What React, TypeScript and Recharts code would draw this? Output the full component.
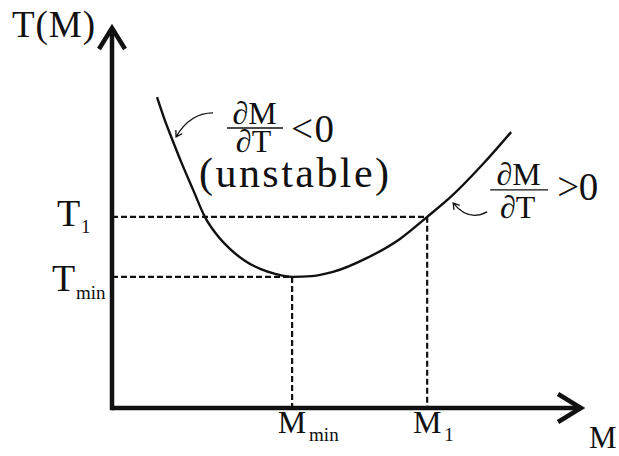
import React from "react";
import {
  LineChart,
  Line,
  XAxis,
  YAxis,
  ReferenceLine,
  ReferenceDot,
} from "recharts";

// curve T(M) (arbitrary units, axes run 0..10)
const massValues = [
  0.96, 1.11, 1.28, 1.49, 1.73, 1.98, 2.24, 2.52, 2.84, 3.16, 3.48, 3.84,
  4.26, 4.71, 5.44, 6.14, 6.72, 7.21, 7.91, 8.51,
];
const tempValues = [
  8.18, 7.63, 7.08, 6.43, 5.74, 5.03, 4.55, 4.18, 3.87, 3.66, 3.53, 3.45,
  3.47, 3.58, 3.95, 4.45, 5.03, 5.54, 6.42, 7.26,
];

const M_MIN = 3.84;
const M_ONE = 6.72;
const T_MIN = 3.45;
const T_ONE = 5.03;
const AXIS_MAX = 10;

const massTicks = [M_MIN, M_ONE];
const massTickSubs = ["min", "1"];
const tempTicks = [T_MIN, T_ONE];
const tempTickSubs = ["min", "1"];

const curveData = massValues.map((m, i) => ({ m, t: tempValues[i] }));

const FONT = "'Liberation Serif', 'Times New Roman', serif";
const INK = "#111";

// shared text props so every label gets the serif face
const tx = { fontFamily: FONT, fill: INK, fontWeight: 400 as const };

function MassTick(props: any) {
  const { x, y, payload } = props;
  const sub = massTickSubs[massTicks.indexOf(payload.value)];
  return (
    <g>
      <text {...tx} x={x} y={y + 25} fontSize={32} textAnchor="middle">
        M
      </text>
      <text {...tx} x={x + 17} y={y + 33} fontSize={19}>
        {sub}
      </text>
    </g>
  );
}

function TempTick(props: any) {
  const { x, y, payload } = props;
  const sub = tempTickSubs[tempTicks.indexOf(payload.value)];
  const isMin = sub === "min";
  return (
    <g>
      <text
        {...tx}
        x={isMin ? x - 60 : x - 55}
        y={isMin ? y + 14 : y + 9}
        fontSize={38}
      >
        T
      </text>
      <text
        {...tx}
        x={isMin ? x - 36 : x - 31}
        y={isMin ? y + 22 : y + 16}
        fontSize={19}
      >
        {sub}
      </text>
    </g>
  );
}

function arrowPath(
  sx: number,
  sy: number,
  qx: number,
  qy: number,
  ex: number,
  ey: number
) {
  const len = Math.hypot(ex - qx, ey - qy);
  const ux = (ex - qx) / len;
  const uy = (ey - qy) / len;
  const head = 7;
  const wing = (a: number) => [
    ex - head * (ux * Math.cos(a) - uy * Math.sin(a)),
    ey - head * (ux * Math.sin(a) + uy * Math.cos(a)),
  ];
  const [ax, ay] = wing(0.55);
  const [bx, by] = wing(-0.55);
  return `M${sx},${sy} Q${qx},${qy} ${ex},${ey} M${ax},${ay} L${ex},${ey} L${bx},${by}`;
}

function UnstableNote(props: any) {
  const { cx, cy } = props;
  return (
    <g>
      <path
        d={arrowPath(cx + 41, cy - 26, cx + 18, cy - 26, cx + 4, cy - 2)}
        fill="none"
        stroke={INK}
        strokeWidth={1.3}
      />
      <text {...tx} x={cx + 82.5} y={cy - 15} fontSize={32} textAnchor="middle">
        ∂M
      </text>
      <line x1={cx + 55} x2={cx + 111} y1={cy - 11} y2={cy - 11} stroke={INK} strokeWidth={1.4} />
      <text {...tx} x={cx + 81.5} y={cy + 13} fontSize={32} textAnchor="middle">
        ∂T
      </text>
      <text {...tx} x={cx + 119} y={cy + 3} fontSize={39} textLength={43} lengthAdjust="spacing">
        {"<0"}
      </text>
      <text {...tx} x={cx + 27} y={cy + 48} fontSize={42} textLength={190} lengthAdjust="spacing">
        (unstable)
      </text>
    </g>
  );
}

function StableNote(props: any) {
  const { cx, cy } = props;
  return (
    <g>
      <path
        d={arrowPath(cx + 60, cy - 5, cx + 41, cy + 5, cx + 26, cy - 14)}
        fill="none"
        stroke={INK}
        strokeWidth={1.3}
      />
      <text {...tx} x={cx + 91.5} y={cy - 32} fontSize={32} textAnchor="middle">
        ∂M
      </text>
      <line x1={cx + 63} x2={cx + 121} y1={cy - 27} y2={cy - 27} stroke={INK} strokeWidth={1.4} />
      <text {...tx} x={cx + 90.5} y={cy + 1} fontSize={32} textAnchor="middle">
        ∂T
      </text>
      <text {...tx} x={cx + 130} y={cy - 17} fontSize={39} textLength={41} lengthAdjust="spacing">
        {">0"}
      </text>
    </g>
  );
}

function MassArrow(props: any) {
  const { cx, cy } = props;
  return (
    <g>
      <polyline
        points={`${cx - 23},${cy - 14} ${cx},${cy} ${cx - 23},${cy + 14}`}
        fill="none"
        stroke={INK}
        strokeWidth={4.5}
      />
      <text {...tx} x={cx + 8} y={cy + 40} fontSize={31}>
        M
      </text>
    </g>
  );
}

function TempArrow(props: any) {
  const { cx, cy } = props;
  return (
    <g>
      <polyline
        points={`${cx - 13},${cy + 21} ${cx},${cy} ${cx + 13},${cy + 21}`}
        fill="none"
        stroke={INK}
        strokeWidth={4.5}
      />
      <text
        {...tx}
        x={cx - 100}
        y={cy + 9}
        fontSize={37}
        textLength={83}
        lengthAdjust="spacing"
      >
        T(M)
      </text>
    </g>
  );
}

export default function App() {
  return (
    <div
      style={{
        position: "absolute",
        left: 0,
        top: 0,
        width: 619,
        height: 456,
        background: "#fff",
      }}
    >
      <LineChart
        width={619}
        height={456}
        data={curveData}
        margin={{ top: 28, right: 38, bottom: 0, left: 0 }}
      >
        <XAxis
          type="number"
          dataKey="m"
          domain={[0, AXIS_MAX]}
          allowDataOverflow
          ticks={massTicks}
          interval={0}
          height={48}
          axisLine={false}
          tickLine={false}
          tickSize={0}
          tickMargin={0}
          tick={(p: any) => <MassTick {...p} />}
        />
        <YAxis
          type="number"
          dataKey="t"
          domain={[0, AXIS_MAX]}
          allowDataOverflow
          ticks={tempTicks}
          interval={0}
          width={112}
          axisLine={false}
          tickLine={false}
          tickSize={0}
          tickMargin={0}
          tick={(p: any) => <TempTick {...p} />}
        />

        <ReferenceLine
          segment={[{ x: 0, y: T_ONE }, { x: M_ONE, y: T_ONE }]}
          stroke={INK}
          strokeWidth={2.2}
          strokeDasharray="6 3"
          ifOverflow="visible"
        />
        <ReferenceLine
          segment={[{ x: M_ONE, y: T_ONE }, { x: M_ONE, y: 0 }]}
          stroke={INK}
          strokeWidth={2.2}
          strokeDasharray="6 3"
          ifOverflow="visible"
        />
        <ReferenceLine
          segment={[{ x: 0, y: T_MIN }, { x: M_MIN, y: T_MIN }]}
          stroke={INK}
          strokeWidth={2.2}
          strokeDasharray="6 3"
          ifOverflow="visible"
        />
        <ReferenceLine
          segment={[{ x: M_MIN, y: T_MIN }, { x: M_MIN, y: 0 }]}
          stroke={INK}
          strokeWidth={2.2}
          strokeDasharray="6 3"
          ifOverflow="visible"
        />

        {/* axes */}
        <ReferenceLine
          segment={[{ x: 0, y: 0 }, { x: AXIS_MAX, y: 0 }]}
          stroke={INK}
          strokeWidth={4.5}
          ifOverflow="visible"
        />
        <ReferenceLine
          segment={[{ x: 0, y: -0.06 }, { x: 0, y: AXIS_MAX }]}
          stroke={INK}
          strokeWidth={4.5}
          ifOverflow="visible"
        />

        <Line
          type="monotone"
          dataKey="t"
          stroke={INK}
          strokeWidth={2.4}
          dot={false}
          activeDot={false}
          isAnimationActive={false}
        />

        <ReferenceDot
          x={AXIS_MAX}
          y={0}
          ifOverflow="visible"
          shape={(p: any) => <MassArrow {...p} />}
        />
        <ReferenceDot
          x={0}
          y={AXIS_MAX}
          ifOverflow="visible"
          shape={(p: any) => <TempArrow {...p} />}
        />
        <ReferenceDot
          x={massValues[2]}
          y={tempValues[2]}
          ifOverflow="visible"
          shape={(p: any) => <UnstableNote {...p} />}
        />
        <ReferenceDot
          x={M_ONE}
          y={T_ONE}
          ifOverflow="visible"
          shape={(p: any) => <StableNote {...p} />}
        />
      </LineChart>
    </div>
  );
}
